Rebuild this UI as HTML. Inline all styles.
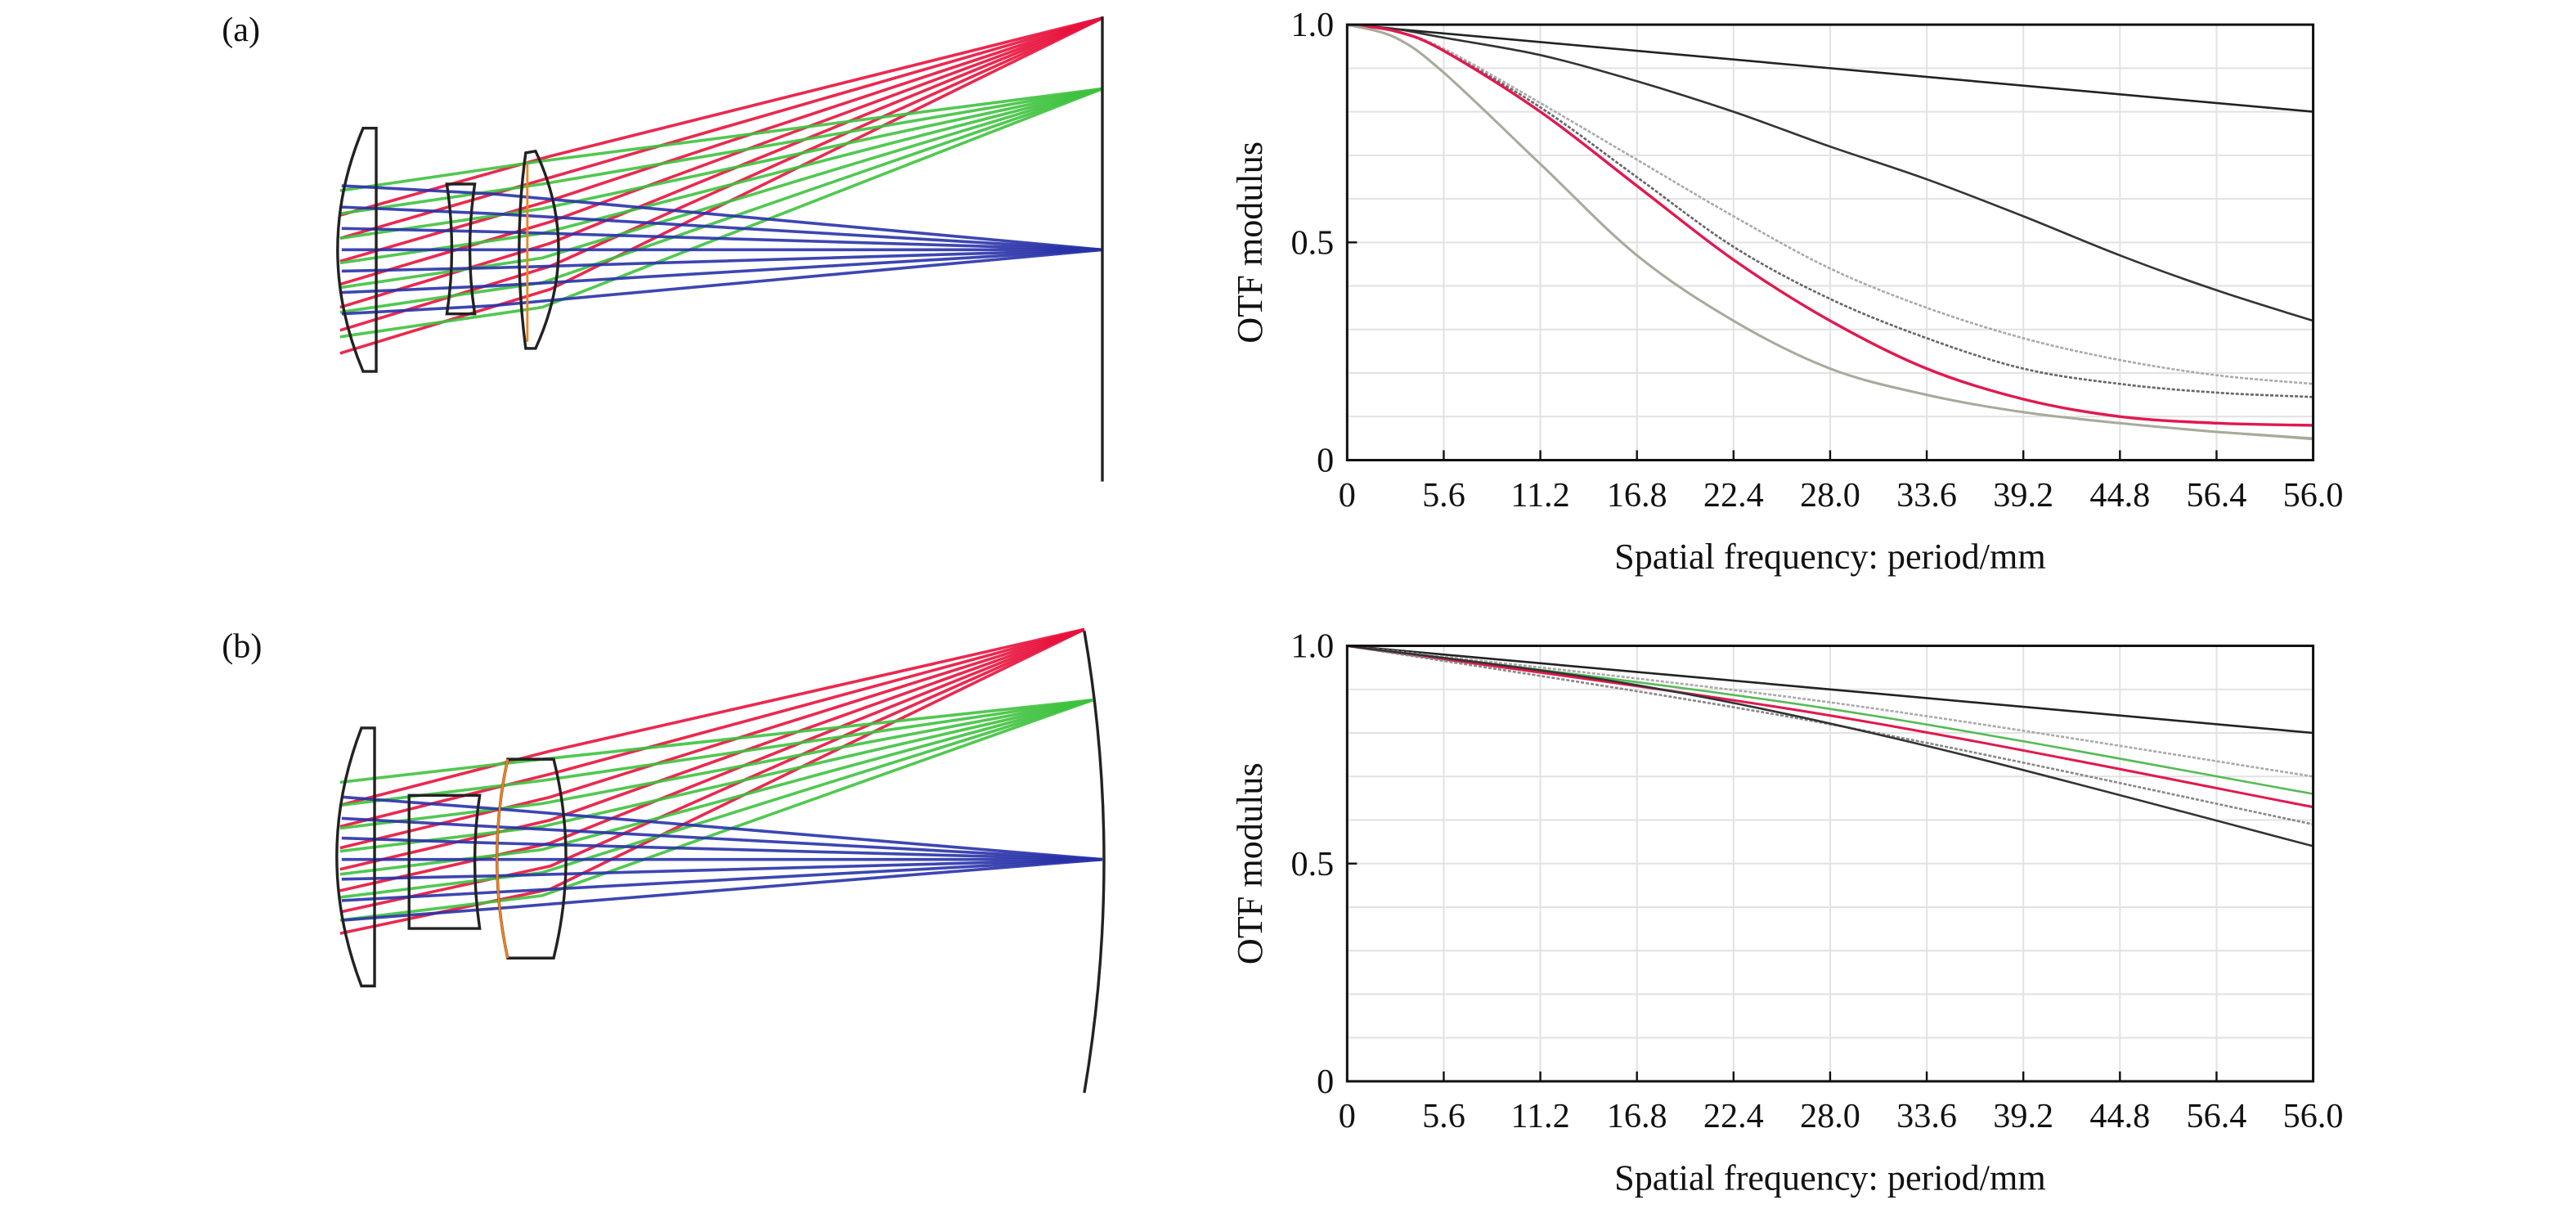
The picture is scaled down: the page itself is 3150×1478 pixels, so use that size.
<!DOCTYPE html>
<html><head><meta charset="utf-8"><style>
html,body{margin:0;padding:0;background:#fff;}
svg{display:block;}
text{font-family:"Liberation Serif",serif;fill:#111;}
</style></head><body>
<svg id="s" width="3150" height="1478" viewBox="0 0 1568 735.7" preserveAspectRatio="none" xmlns="http://www.w3.org/2000/svg">
<rect width="1568" height="736" fill="#fff"/>
<g id="g"></g>
</svg>
<script>
const g=document.getElementById('g');let h='';
function cr(pts){let d='M'+pts[0][0].toFixed(1)+' '+pts[0][1].toFixed(1);
for(let i=0;i<pts.length-1;i++){const p0=pts[Math.max(0,i-1)],p1=pts[i],p2=pts[i+1],p3=pts[Math.min(pts.length-1,i+2)];
d+=' C'+(p1[0]+(p2[0]-p0[0])/6).toFixed(1)+' '+(p1[1]+(p2[1]-p0[1])/6).toFixed(1)+' '+(p2[0]-(p3[0]-p1[0])/6).toFixed(1)+' '+(p2[1]-(p3[1]-p1[1])/6).toFixed(1)+' '+p2[0].toFixed(1)+' '+p2[1].toFixed(1);}return d;}
const ticks=['0','5.6','11.2','16.8','22.4','28.0','33.6','39.2','44.8','56.4','56.0'];
function chart(top,bot,curves){
 const L=820,R=1408;const X=f=>L+f*(R-L),Y=v=>bot-v*(bot-top);
 for(let i=1;i<10;i++){h+=`<line x1="${L}" x2="${R}" y1="${Y(i/10)}" y2="${Y(i/10)}" stroke="#e2e2e2" stroke-width="1"/>`;}
 for(let i=1;i<10;i++){h+=`<line x1="${X(i/10)}" x2="${X(i/10)}" y1="${top}" y2="${bot}" stroke="#e2e2e2" stroke-width="1"/>`;}
 for(const c of curves){const pts=c.p.map(q=>[X(q[0]),Y(q[1])]);h+=`<path d="${cr(pts)}" fill="none" stroke="${c.c}" stroke-width="${c.w||1.3}" ${c.da?'stroke-dasharray="'+c.da+'"':''}/>`;}
 h+=`<rect x="${L}" y="${top}" width="${R-L}" height="${bot-top}" fill="none" stroke="#111" stroke-width="1.5"/>`;
 for(let i=0;i<=10;i++){h+=`<line x1="${X(i/10)}" x2="${X(i/10)}" y1="${bot}" y2="${bot-6}" stroke="#111" stroke-width="1.2"/>`;
  h+=`<text x="${X(i/10)}" y="${bot+28}" font-size="21" text-anchor="middle">${ticks[i]}</text>`;}
 h+=`<line x1="${L}" x2="${L+6}" y1="${Y(.5)}" y2="${Y(.5)}" stroke="#111" stroke-width="1.2"/>`;
 [['1.0',1],['0.5',.5],['0',0]].forEach(t=>{h+=`<text x="${L-8}" y="${Y(t[1])+7}" font-size="21" text-anchor="end">${t[0]}</text>`;});
 h+=`<text x="${(L+R)/2}" y="${bot+66}" font-size="22" text-anchor="middle">Spatial frequency: period/mm</text>`;
 h+=`<text transform="translate(768,${(top+bot)/2}) rotate(-90)" font-size="22" text-anchor="middle">OTF modulus</text>`;
}
const xs=[0,.05,.1,.2,.3,.4,.5,.6,.7,.8,.9,1];
const mk=v=>v.map((y,i)=>[xs[i],y]);
chart(15,280,[
 {c:'#222',p:[[0,1],[1,.8]]},
 {c:'#333',p:mk([1,.99,.97,.93,.87,.80,.72,.645,.56,.47,.39,.32])},
 {c:'#aaa',da:'2 1',p:mk([1,.985,.945,.82,.69,.56,.44,.35,.28,.23,.195,.175])},
 {c:'#666',da:'2 1',p:mk([1,.985,.94,.81,.65,.49,.37,.28,.21,.175,.155,.145])},
 {c:'#e0194f',w:1.7,p:mk([1,.985,.94,.80,.63,.46,.32,.21,.14,.10,.085,.08])},
 {c:'#9a9',w:1.5,p:mk([1,.97,.89,.68,.47,.32,.21,.15,.11,.085,.065,.05])},
 {c:'#aa9',w:1.2,p:mk([1,.97,.89,.68,.47,.32,.21,.15,.11,.085,.065,.048])}
]);
chart(393,658,[
 {c:'#222',p:[[0,1],[1,.8]]},
 {c:'#aaa',da:'2 1',p:[[0,1],[.5,.87],[1,.70]]},
 {c:'#5b5',p:[[0,1],[.5,.855],[1,.66]]},
 {c:'#e0194f',w:1.5,p:[[0,1],[.5,.84],[1,.63]]},
 {c:'#888',da:'2 1',p:[[0,1],[.5,.82],[1,.59]]},
 {c:'#333',p:[[0,1],[.3,.91],[.6,.77],[1,.54]]}
]);
function rays(col,starts,mids,mx,f){for(let i=0;i<starts.length;i++){h+=`<polyline points="${starts[i][0]},${starts[i][1]} ${mx},${mids[i]} ${f[0]},${f[1]}" fill="none" stroke="${col}" stroke-width="1.8" opacity=".9"/>`;}}
function diag(b){
 const fy=b?[383,426,523]:[11,54,152];const fx=b?[660,665,671]:[671,671,671];
 rays('#e8123c',(b?[568,555,542,529,516,503,490]:[215,201,187,173,159,145,131]).map(y=>[207,y]),b?[541,527,513,499,485,471,457]:[176,162,148,135,122,108,95],335,[fx[0],fy[0]]);
 rays('#3ec23e',(b?[560,546,532,518,504,490,476]:[205,190,175,160,145,130,116]).map(y=>[207,y]),b?[545,531,517,503,489,475,462]:[187,172,157,142,127,112,98],330,[fx[1],fy[1]]);
 rays('#2832a8',(b?[485,498,510,523,535,548,560]:[113,126,139,152,165,178,191]).map(y=>[208,y]),b?[492,503,513,523,533,543,553]:[118,130,141,152,163,174,186],300,[fx[2],fy[2]]);
 const st='fill="none" stroke="#222" stroke-width="1.7"';
 if(!b){
  h+=`<path d="M229 78 L229 226 L221 226 Q190 152 221 78 Z" ${st}/>`;
  h+=`<path d="M272 112 L289 112 Q283 152 289 191 L272 191 Q278 152 272 112 Z" ${st}/>`;
  h+=`<path d="M320 93 L326 92 Q354 151 326 212 L320 212 Q312 151 320 93 Z" ${st}/>`;
  h+=`<line x1="321" y1="100" x2="321" y2="208" stroke="#f08020" stroke-width="1.4"/>`;
  h+=`<line x1="671" y1="10" x2="671" y2="293" stroke="#222" stroke-width="1.7"/>`;
  h+=`<text x="135" y="25" font-size="21">(a)</text>`;
 }else{
  h+=`<path d="M228 443 L228 600 L220 600 Q190 521 220 443 Z" ${st}/>`;
  h+=`<path d="M249 484 L292 484 Q286 524 292 565 L249 565 Z" ${st}/>`;
  h+=`<path d="M309 462 L337 462 Q352 522 337 583 L309 583 Q296 522 309 462 Z" ${st}/>`;
  h+=`<path d="M309 462 Q296 522 309 583" fill="none" stroke="#f08020" stroke-width="1.4"/>`;
  h+=`<path d="M660 384 Q684 523 660 665" fill="none" stroke="#222" stroke-width="1.7"/>`;
  h+=`<text x="135" y="400" font-size="21">(b)</text>`;
 }
}
diag(false);diag(true);
g.innerHTML=h;
</script>
</body></html>
